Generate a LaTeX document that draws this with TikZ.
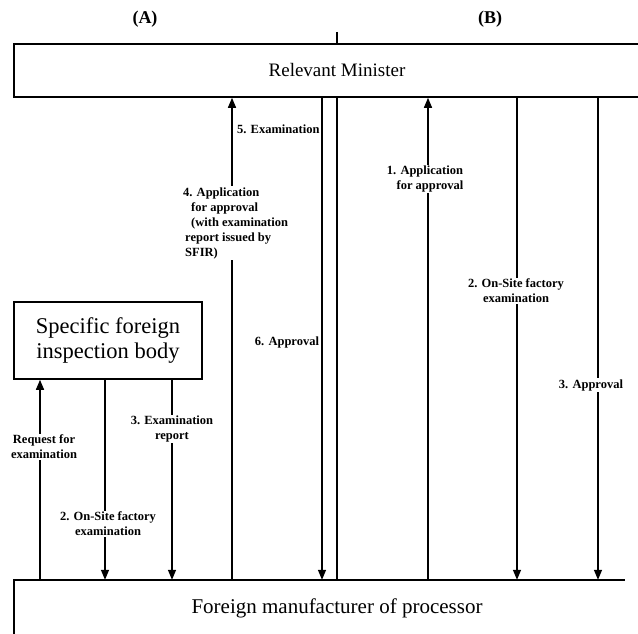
\documentclass[tikz,border=0pt]{standalone}
\usepackage{fontspec}
\setmainfont{Liberation Serif}
\usetikzlibrary{arrows.meta}
\begin{document}
\begin{tikzpicture}[x=1pt,y=-1pt,
  boxline/.style={line width=1.6pt},
  conn/.style={line width=1.4pt},
  arr/.style={line width=1.4pt,-{Triangle[length=10pt,width=8pt]}},
  lbl/.style={fill=white,inner sep=1pt,font=\bfseries\fontsize{12.5}{15}\selectfont,align=center},
  lbll/.style={lbl,align=left,anchor=west},
  head/.style={font=\bfseries\fontsize{18}{20}\selectfont}]
\useasboundingbox (0,0) rectangle (638,634);

% headings
\node[head] (la) at (145,19) {(A)};
\node[head] (lb) at (490,19) {(B)};

% boxes
\node[draw,boxline,minimum width=646pt,minimum height=53pt,inner sep=0pt,
      font=\fontsize{19}{22}\selectfont] (min) at (337,70.5) {Relevant Minister};
\node[draw,boxline,minimum width=188pt,minimum height=77pt,inner sep=0pt,align=center,
      font=\fontsize{22.5}{25}\selectfont] (sfib) at (108,340.5) {Specific foreign\\inspection body};
\node[minimum height=56pt,inner sep=0pt,font=\fontsize{21}{24}\selectfont] (mfr) at (337,608)
      {Foreign manufacturer of processor};
\draw[boxline] (14,0 |- mfr.south) -- (14,0 |- mfr.north) -- (625,0 |- mfr.north);

% divider
\coordinate (tick) at (337,32);
\draw[conn] (tick) -- (337,0 |- min.north);
\draw[conn] (337,0 |- min.south) -- (337,0 |- mfr.north);

% (A) side
\draw[arr] (40,0 |- mfr.north) -- (40,0 |- sfib.south);
\draw[arr] (105,0 |- sfib.south) -- (105,0 |- mfr.north);
\draw[arr] (172,0 |- sfib.south) -- (172,0 |- mfr.north);
\draw[arr] (232,0 |- mfr.north) -- (232,0 |- min.south);
\draw[arr] (322,0 |- min.south) -- (322,0 |- mfr.north);

% (B) side
\draw[arr] (428,0 |- mfr.north) -- (428,0 |- min.south);
\draw[arr] (517,0 |- min.south) -- (517,0 |- mfr.north);
\draw[arr] (598,0 |- min.south) -- (598,0 |- mfr.north);

% labels (A)
\node[lbl] (lreq) at (44,447) {Request for\\examination};
\node[lbl] (lons) at (108,524) {2. On-Site factory\\examination};
\node[lbl] (lexr) at (172,429) {3. Examination\\report};
\node[lbll] (lapp) at (182,223) {4. Application\\\hspace{8pt}for approval\\\hspace{8pt}(with examination\\\hspace{2pt}report issued by\\\hspace{2pt}SFIR)};
\node[lbll] (lexm) at (236,129) {5. Examination};
\node[lbl] (lapv) at (287,342) {6. Approval};

% labels (B)
\node[lbl] (lbapp) at (425,179) {1. Application\\\hspace{10pt}for approval};
\node[lbl] (lbons) at (516,291) {2. On-Site factory\\examination};
\node[lbl] (lbapv) at (591,385) {3. Approval};
\end{tikzpicture}
\end{document}
